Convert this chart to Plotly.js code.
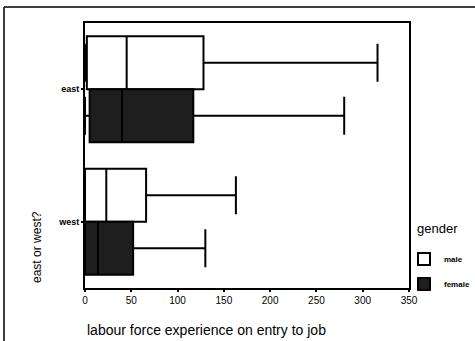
<!DOCTYPE html>
<html>
<head>
<meta charset="utf-8">
<script src="https://cdn.plot.ly/plotly-3.0.1.min.js"></script>
<style>
  html, body { margin: 0; padding: 0; background: #ffffff; }
  #chart { width: 475px; height: 341px; }
</style>
</head>
<body>
<div id="chart"></div>
<script>
// Region categories (y axis) and gender series
const regions = ['east', 'west'];
const genders = ['male', 'female'];

// Five-number summaries of labour force experience on entry to job, per region
const maleLowerFence  = [0, 0];
const maleQ1          = [2, 0];
const maleMedian      = [45, 23];
const maleQ3          = [128, 66];
const maleUpperFence  = [316, 163];

const femaleLowerFence = [0, 0];
const femaleQ1         = [5, 0];
const femaleMedian     = [40, 14];
const femaleQ3         = [117, 52];
const femaleUpperFence = [280, 130];

const xTicks = [0, 50, 100, 150, 200, 250, 300, 350];

const fontFamily = '"Liberation Sans", Arial, Helvetica, sans-serif';

function boxTrace(name, group, lf, q1, med, q3, uf, fill) {
  return {
    type: 'box',
    orientation: 'h',
    name: name,
    legendgroup: group,
    y: regions,
    lowerfence: lf,
    q1: q1,
    median: med,
    q3: q3,
    upperfence: uf,
    boxpoints: false,
    whiskerwidth: 0.72,
    fillcolor: fill,
    line: { color: '#000000', width: 2 },
    hoverinfo: 'x+y+name'
  };
}

const data = [
  boxTrace(genders[0], 'm', maleLowerFence, maleQ1, maleMedian, maleQ3, maleUpperFence, '#ffffff'),
  boxTrace(genders[1], 'f', femaleLowerFence, femaleQ1, femaleMedian, femaleQ3, femaleUpperFence, '#1e1e1e')
];

const layout = {
  width: 475,
  height: 341,
  // fixed plot frame; the legend sits in the right margin without resizing it
  margin: { l: 85, r: 66, t: 23, b: 53, pad: 0, autoexpand: false },
  paper_bgcolor: '#ffffff',
  plot_bgcolor: '#ffffff',
  font: { family: fontFamily, color: '#000000', size: 10 },
  boxmode: 'group',
  boxgap: 0.2,
  boxgroupgap: 0,
  showlegend: true,
  legend: {
    x: 0.9846,
    xanchor: 'left',
    y: 0.164,
    yanchor: 'top',
    bgcolor: 'rgba(0,0,0,0)',
    font: { family: fontFamily, size: 8, weight: 'bold' },
    itemwidth: 30,
    tracegroupgap: 6
  },
  xaxis: {
    range: [0, 350],
    tickvals: xTicks,
    ticktext: xTicks.map(String),
    showgrid: false,
    zeroline: false,
    showline: true,
    linecolor: '#000000',
    linewidth: 2,
    mirror: true,
    ticks: 'outside',
    ticklen: 2,
    tickwidth: 2,
    tickcolor: '#000000',
    tickfont: { family: fontFamily, size: 10, color: '#000000' }
  },
  yaxis: {
    type: 'category',
    categoryorder: 'array',
    categoryarray: regions,
    range: [1.5, -0.5],
    showgrid: false,
    zeroline: false,
    showline: true,
    linecolor: '#000000',
    linewidth: 2,
    mirror: true,
    ticks: 'outside',
    ticklen: 2,
    tickwidth: 2,
    tickcolor: '#000000',
    tickfont: { family: fontFamily, size: 9, weight: 'bold', color: '#000000' }
  },
  annotations: [
    {
      text: 'labour force experience on entry to job',
      xref: 'paper', yref: 'paper',
      x: 0, y: -0.158,
      xanchor: 'left', yanchor: 'middle',
      showarrow: false,
      font: { family: fontFamily, size: 14, color: '#000000' }
    },
    {
      text: 'east or west?',
      xref: 'paper', yref: 'paper',
      x: -0.148, y: 0.155,
      xanchor: 'center', yanchor: 'middle',
      textangle: -90,
      showarrow: false,
      font: { family: fontFamily, size: 12, color: '#000000' }
    },
    {
      // legend heading
      text: 'gender',
      xref: 'paper', yref: 'paper',
      x: 1.0185, y: 0.226,
      xanchor: 'left', yanchor: 'middle',
      showarrow: false,
      font: { family: fontFamily, size: 13, color: '#000000' }
    }
  ],
  shapes: [
    // outer frame: top edge and left edge of the chart panel
    { type: 'line', xref: 'paper', yref: 'paper', x0: -0.25, x1: 1.21, y0: 1.0604, y1: 1.0604,
      line: { color: '#000000', width: 1.5 } },
    { type: 'line', xref: 'paper', yref: 'paper', x0: -0.25, x1: -0.25, y0: 1.0604, y1: -0.21,
      line: { color: '#000000', width: 1.5 } }
  ]
};

Plotly.newPlot('chart', data, layout, { displayModeBar: false, staticPlot: true });
</script>
</body>
</html>
